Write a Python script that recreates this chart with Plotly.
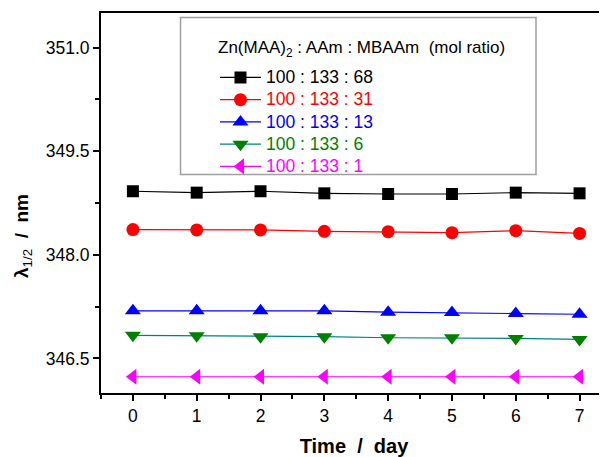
import plotly.graph_objects as go

days = [0, 1, 2, 3, 4, 5, 6, 7]
s68 = [348.92, 348.90, 348.92, 348.89, 348.88, 348.88, 348.90, 348.89]
s31 = [348.365, 348.36, 348.36, 348.34, 348.335, 348.32, 348.35, 348.31]
s13 = [347.19, 347.19, 347.19, 347.19, 347.17, 347.165, 347.15, 347.14]
s6 = [346.835, 346.83, 346.815, 346.815, 346.80, 346.80, 346.79, 346.775]
s1 = [346.235, 346.235, 346.235, 346.235, 346.235, 346.235, 346.235, 346.235]

names = ["100 : 133 : 68", "100 : 133 : 31", "100 : 133 : 13", "100 : 133 : 6", "100 : 133 : 1"]
series = [s68, s31, s13, s6, s1]
line_colors = ["#000000", "#FF0000", "#0000FF", "#008080", "#FF00FF"]
marker_colors = ["#000000", "#FF0000", "#0000FF", "#008000", "#FF00FF"]
text_colors = ["#000000", "#FF0000", "#0000FF", "#008000", "#FF00FF"]
symbols = ["square", "circle", "triangle-up", "triangle-down", "triangle-left"]
sizes = [12, 13, 14, 14, 14]
legend_title = "Zn(MAA)<sub>2</sub> : AAm : MBAAm\u00a0 (mol ratio)"

FONT = "Liberation Sans, Arial, sans-serif"

fig = go.Figure()
for nm, ys, lc, mc, tc, sym, sz in zip(names, series, line_colors, marker_colors, text_colors, symbols, sizes):
    fig.add_trace(go.Scatter(
        x=days, y=ys, mode="lines+markers",
        name=f'<span style="color:{tc};font-size:17.5px">{nm}</span>',
        line=dict(color=lc, width=1.2),
        marker=dict(symbol=sym, size=sz, color=mc, line=dict(width=0)),
    ))

# page has an 8px body margin; figure is offset by it
OFF = 8
W, H = 607 - OFF, 457 - OFF
L_PAGE, T_PAGE, B_PAGE = 101, 13, 393
L, T = L_PAGE - OFF, T_PAGE - OFF
R = 0
pw = W - L - R
ph = B_PAGE - T_PAGE
B = H - T - ph

def px_x(x):
    return (x - L_PAGE) / pw

def px_y(y):
    return (B_PAGE - y) / ph

fig.update_layout(
    width=W, height=H,
    margin=dict(l=L, r=R, t=T, b=B, autoexpand=False),
    paper_bgcolor="white", plot_bgcolor="white",
    font=dict(family=FONT, size=17.5, color="black"),
    showlegend=True,
    legend=dict(
        x=px_x(215), y=px_y(61.3), xanchor="left", yanchor="top",
        bgcolor="rgba(0,0,0,0)", borderwidth=0,
        font=dict(family=FONT, size=14.8, color="black"),
        itemwidth=41,
        tracegroupgap=0,
    ),
    xaxis=dict(
        range=[-0.5, 7.43], tickvals=days, ticktext=[str(d) for d in days],
        ticks="outside", ticklen=6, tickwidth=1.5, tickcolor="black",
        minor=dict(dtick=0.5, tick0=0, ticks="outside", ticklen=4, tickwidth=1.5, tickcolor="black"),
        showline=True, linecolor="black", linewidth=2, mirror=True,
        showgrid=False, zeroline=False,
        title=dict(text="<b>Time\u00a0 /\u00a0 day</b>", font=dict(family=FONT, size=20), standoff=17),
        tickfont=dict(family=FONT, size=17.5),
    ),
    yaxis=dict(
        range=[346.0, 351.5], tick0=346.5, dtick=1.5, tickformat=".1f",
        ticks="outside", ticklen=6, tickwidth=1.5, tickcolor="black",
        minor=dict(dtick=0.75, tick0=346.5, ticks="outside", ticklen=4, tickwidth=1.5, tickcolor="black"),
        showline=True, linecolor="black", linewidth=2, mirror=False,
        showgrid=False, zeroline=False,
        tickfont=dict(family=FONT, size=17.5),
    ),
    shapes=[dict(type="rect", xref="paper", yref="paper",
                 x0=px_x(180.5), x1=px_x(536), y0=px_y(174.5), y1=px_y(17.5),
                 line=dict(color="#A0A0A0", width=1.5), fillcolor="rgba(0,0,0,0)", layer="above")],
    annotations=[
        dict(text="<b>λ</b><sub>1/2</sub><b>\u00a0 /\u00a0 nm</b>", textangle=-90,
             xref="paper", yref="paper", x=px_x(23), y=px_y(236),
             xanchor="center", yanchor="middle", showarrow=False,
             font=dict(family=FONT, size=19, color="black")),
        dict(text=legend_title, xref="paper", yref="paper", x=px_x(216), y=px_y(49),
             xanchor="left", yanchor="middle", showarrow=False,
             font=dict(family=FONT, size=17, color="black")),
    ],
)

fig.write_html("out.html")
